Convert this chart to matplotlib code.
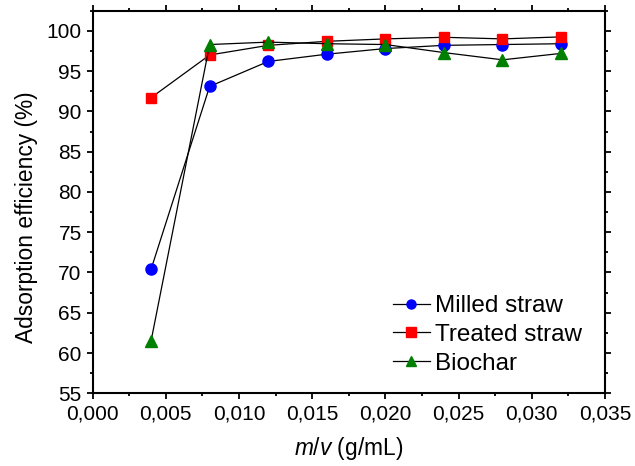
import matplotlib
matplotlib.use('Agg')
import matplotlib.pyplot as plt
from matplotlib.ticker import MultipleLocator, FuncFormatter

plt.rcParams['font.family'] = 'Liberation Sans'
plt.rcParams['mathtext.fontset'] = 'custom'
plt.rcParams['mathtext.it'] = 'Liberation Sans:italic'
plt.rcParams['mathtext.rm'] = 'Liberation Sans'

mv = [0.004, 0.008, 0.012, 0.016, 0.020, 0.024, 0.028, 0.032]
milled = [70.4, 93.1, 96.2, 97.1, 97.8, 98.2, 98.3, 98.4]
treated = [91.7, 97.0, 98.2, 98.7, 99.0, 99.2, 99.0, 99.25]
biochar = [61.5, 98.3, 98.6, 98.4, 98.3, 97.3, 96.4, 97.2]

series = [
    ('Milled straw', milled, 'blue', 'o', 8),
    ('Treated straw', treated, 'red', 's', 7),
    ('Biochar', biochar, 'green', '^', 8.5),
]

fig = plt.figure(figsize=(6.35, 4.66), dpi=100)
ax = fig.add_axes([92.5/635, 1-393.3/466, (605-92.5)/635, (393.3-10.7)/466])

for name, vals, col, mk, ms in series:
    ax.plot(mv, vals, color='black', lw=0.9, marker=mk, ms=ms,
            mfc=col, mec=col, label=name)

ax.set_xlim(0, 0.035)
ax.set_ylim(55, 102.5)
ax.xaxis.set_major_locator(MultipleLocator(0.005))
ax.xaxis.set_minor_locator(MultipleLocator(0.0025))
ax.yaxis.set_major_locator(MultipleLocator(5))
ax.yaxis.set_minor_locator(MultipleLocator(2.5))
ax.xaxis.set_major_formatter(FuncFormatter(lambda v, p: f'{v:.3f}'.replace('.', ',')))
ax.tick_params(which='both', direction='out', top=True, right=True,
               labelsize=15, width=1.3)
ax.tick_params(which='major', length=4.3)
ax.tick_params(which='minor', length=2.3)
for s in ax.spines.values():
    s.set_linewidth(1.5)

ax.set_xlabel(r'$m/v$ (g/mL)', fontsize=16.4)
ax.xaxis.set_label_coords(0.5, -0.11)
ax.set_ylabel('Adsorption efficiency (%)', fontsize=16.4)
ax.yaxis.set_label_coords(-0.107, 0.46)

leg = fig.legend(loc='upper left', bbox_to_anchor=(393/635, 1-295/466),
                 frameon=False, fontsize=17.5, handlelength=1.52,
                 handletextpad=0.2, labelspacing=0.28, borderpad=0,
                 borderaxespad=0)
for h in leg.legend_handles:
    h.set_markersize(6.5)

fig.savefig('out.png', dpi=100)
